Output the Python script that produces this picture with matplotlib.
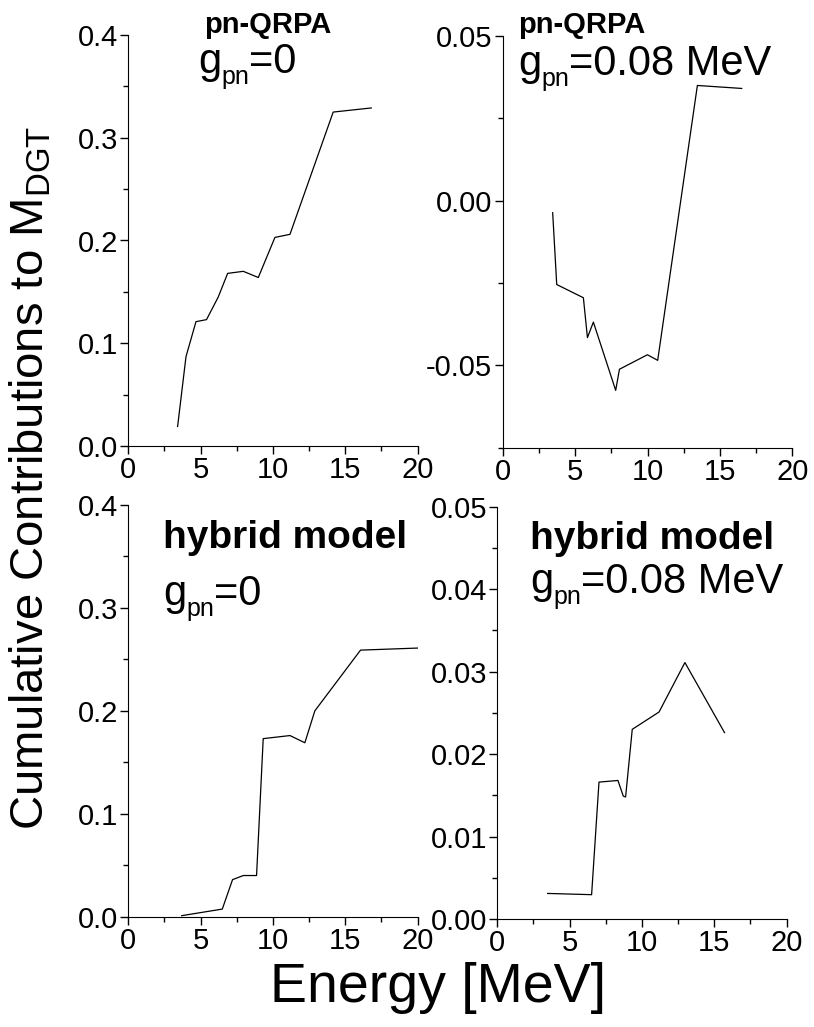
import numpy as np
import matplotlib
matplotlib.use("Agg")
import matplotlib.pyplot as plt
from matplotlib.ticker import MultipleLocator, FormatStrFormatter

# ---- data ----
qrpa0_e = [3.41, 3.99, 4.68, 5.41, 6.22, 6.87, 7.95, 8.99, 10.14, 11.18, 14.17, 16.8]
qrpa0_m = [0.019, 0.087, 0.121, 0.123, 0.145, 0.168, 0.170, 0.164, 0.203, 0.206, 0.325, 0.329]

qrpa8_e = [3.45, 3.73, 5.57, 5.85, 6.26, 7.80, 8.06, 9.99, 10.70, 13.44, 16.50]
qrpa8_m = [-0.0037, -0.0255, -0.0295, -0.0416, -0.0369, -0.0576, -0.0512, -0.0468, -0.0485, 0.0349, 0.0340]

hyb0_e = [3.69, 6.50, 7.21, 7.95, 8.87, 9.33, 11.18, 12.21, 12.90, 16.06, 20.0]
hyb0_m = [0.001, 0.0074, 0.036, 0.040, 0.040, 0.173, 0.176, 0.169, 0.200, 0.259, 0.261]

hyb8_e = [3.48, 6.52, 7.03, 8.34, 8.71, 8.87, 9.33, 11.18, 12.97, 15.71]
hyb8_m = [0.0031, 0.00295, 0.0166, 0.0168, 0.0149, 0.0148, 0.0230, 0.0251, 0.0311, 0.0226]

plt.rcParams["font.family"] = ["Liberation Sans", "DejaVu Sans"]
plt.rcParams["mathtext.fontset"] = "custom"
plt.rcParams["mathtext.rm"] = "Liberation Sans"
plt.rcParams["axes.unicode_minus"] = False

W, H = 814, 1027
fig = plt.figure(figsize=(W / 100, H / 100), dpi=100)
renderer = fig.canvas.get_renderer()


def px_axes(l, t, r, b):
    return fig.add_axes([l / W, 1 - b / H, (r - l) / W, (b - t) / H])


def style(ax, ylim, ymaj, ymin, fmt):
    ax.set_xlim(0, 20)
    ax.set_ylim(*ylim)
    ax.spines["top"].set_visible(False)
    ax.spines["right"].set_visible(False)
    ax.xaxis.set_major_locator(MultipleLocator(5))
    ax.xaxis.set_minor_locator(MultipleLocator(2.5))
    ax.yaxis.set_major_locator(MultipleLocator(ymaj))
    ax.yaxis.set_minor_locator(MultipleLocator(ymin))
    ax.yaxis.set_major_formatter(FormatStrFormatter(fmt))
    ax.tick_params(which="major", direction="out", length=6, width=1, labelsize=21, pad=1.5)
    ax.tick_params(which="minor", direction="out", length=3.5, width=1)
    ax.patch.set_alpha(0)


panels = [
    (px_axes(128.3, 35, 417.5, 446), qrpa0_e, qrpa0_m, (0, 0.4), 0.1, 0.05, "%.1f"),
    (px_axes(502.7, 35.7, 792.4, 447.7), qrpa8_e, qrpa8_m, (-0.075, 0.05), 0.05, 0.025, "%.2f"),
    (px_axes(128.3, 505, 417.5, 916.7), hyb0_e, hyb0_m, (0, 0.4), 0.1, 0.05, "%.1f"),
    (px_axes(497.3, 506.7, 786.6, 919), hyb8_e, hyb8_m, (0, 0.05), 0.01, 0.005, "%.2f"),
]
for ax, e, m, ylim, ymaj, ymin, fmt in panels:
    ax.plot(e, m, color="black", linewidth=0.9)
    style(ax, ylim, ymaj, ymin, fmt)


def ftext(x, y, s, **kw):
    return fig.text(x / W, 1 - y / H, s, va="baseline", ha="left", **kw)


def gpn(x, y, rest, size=30, subsize=18, drop=11):
    # g, lowered "pn", then the rest, placed one after another in pixels
    t = ftext(x, y, "g", fontsize=size)
    x += t.get_window_extent(renderer).width
    t = ftext(x, y + drop, "pn", fontsize=subsize)
    x += t.get_window_extent(renderer).width
    ftext(x, y, rest, fontsize=size)


ftext(204, 33, "pn-QRPA", fontsize=21, fontweight="bold")
gpn(198, 73, "=0")
ftext(518, 33, "pn-QRPA", fontsize=21, fontweight="bold")
gpn(518, 75, "=0.08 MeV")
ftext(163, 548, "hybrid model", fontsize=28, fontweight="bold")
gpn(163, 605, "=0")
ftext(530, 549, "hybrid model", fontsize=28, fontweight="bold")
gpn(530, 593, "=0.08 MeV")

fig.text(44 / W, 1 - 478 / H, r"Cumulative Contributions to M$_{\rm DGT}$",
         rotation=90, rotation_mode="anchor", ha="center", va="baseline", fontsize=34)
fig.text(438 / W, 1 - 1002 / H, "Energy [MeV]", ha="center", va="baseline", fontsize=40)

fig.savefig("out.png", dpi=100)
